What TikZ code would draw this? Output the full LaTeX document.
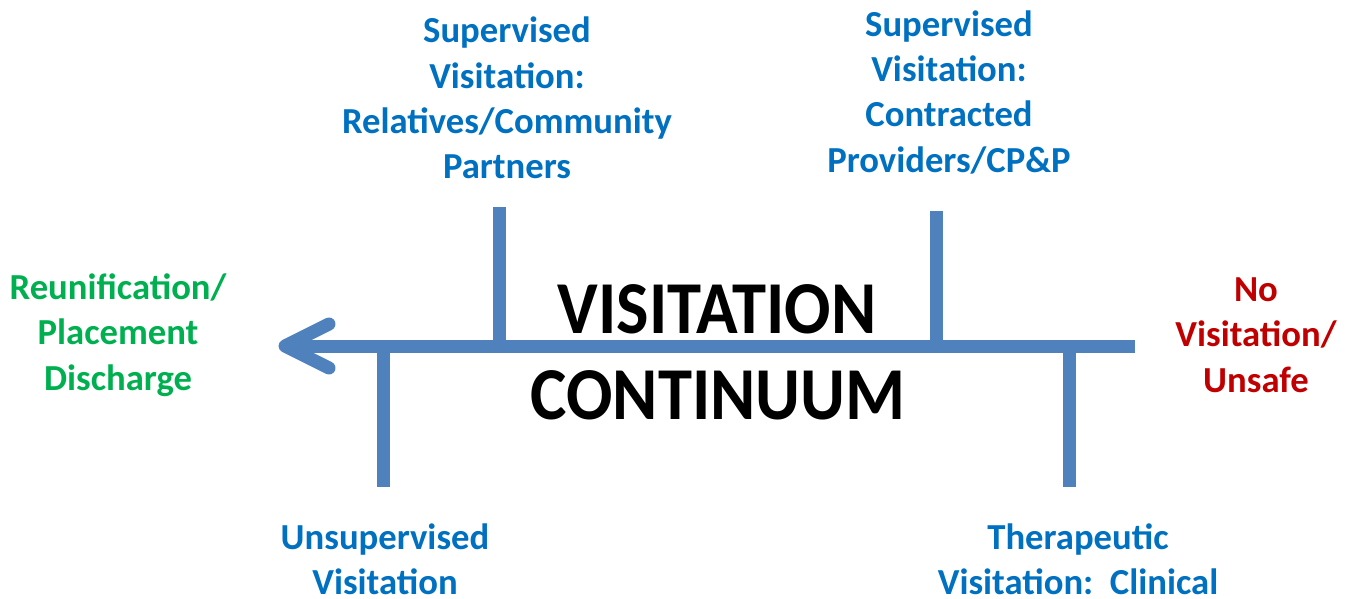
\documentclass[tikz,border=0pt]{standalone}
\usepackage{fontspec}
\setmainfont{Carlito}
\newfontfamily\titlefont[FakeStretch=0.92]{Carlito}
\definecolor{axisblue}{HTML}{4F81BD}
\definecolor{labelblue}{HTML}{0070C0}
\definecolor{goodgreen}{HTML}{00B050}
\definecolor{stopred}{HTML}{C00000}
\begin{document}
\begin{tikzpicture}[x=0.75pt,y=-0.75pt,
  bar/.style={draw=axisblue,line width=9.75pt},
  small/.style={font=\bfseries\fontsize{27.5}{34}\selectfont,align=center,inner sep=0pt},
  big/.style={font=\titlefont\bfseries\fontsize{56}{64}\selectfont,inner sep=0pt,text=black}]
\useasboundingbox (0,0) rectangle (1348,599);

% main axis and its junctions
\coordinate (tip) at (285,346);
\coordinate (tail) at (1135,346);
\coordinate (j1) at (499,346);
\coordinate (j2) at (936,346);
\coordinate (j3) at (383,346);
\coordinate (j4) at (1069,346);
\coordinate (t1) at (499,207);
\coordinate (t2) at (936,211);
\coordinate (t3) at (383,487);
\coordinate (t4) at (1069,487);
\coordinate (armA) at (329,324);
\coordinate (armB) at (329,368);

\draw[bar] (tail) -- (tip);
\draw[bar,line cap=round,line join=round] (armA) -- (tip) -- (armB);
\draw[bar] (j1) -- (t1);
\draw[bar] (j2) -- (t2);
\draw[bar] (j3) -- (t3);
\draw[bar] (j4) -- (t4);

% titles
\node[big] (title1) at (717,309) {VISITATION};
\node[big] (title2) at (718,395) {CONTINUUM};

% stage labels
\node[small,text=labelblue] (rel) at (507,98) {Supervised\\Visitation:\\Relatives/Community\\Partners};
\node[small,text=labelblue] (con) at (949,92) {Supervised\\Visitation:\\Contracted\\Providers/CP\&P};
\node[small,text=labelblue] (uns) at (385,559) {Unsupervised\\Visitation};
\node[small,text=labelblue] (ther) at (1078,559) {Therapeutic\\Visitation:\ \ Clinical};
\node[small,text=goodgreen] (reun) at (118,335) {Reunification/\\Placement\\Discharge};
\node[small,text=stopred] (none) at (1256,335) {No\\Visitation/\\Unsafe};
\end{tikzpicture}
\end{document}
